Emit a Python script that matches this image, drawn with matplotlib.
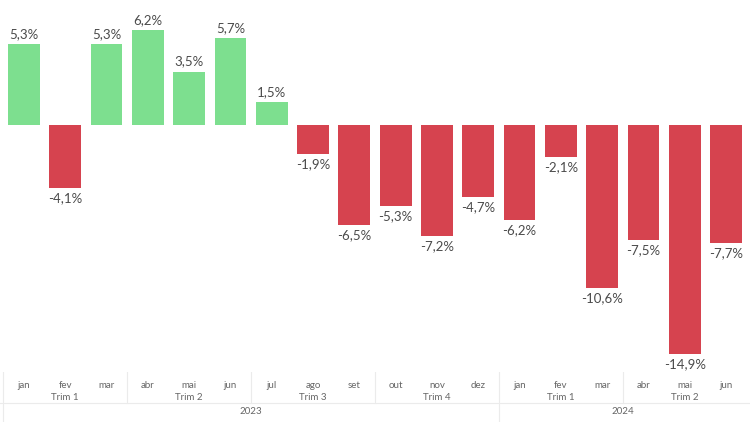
import matplotlib.pyplot as plt

months = ["jan", "fev", "mar", "abr", "mai", "jun", "jul", "ago", "set",
          "out", "nov", "dez", "jan", "fev", "mar", "abr", "mai", "jun"]
values = [5.3, -4.1, 5.3, 6.2, 3.5, 5.7, 1.5, -1.9, -6.5,
          -5.3, -7.2, -4.7, -6.2, -2.1, -10.6, -7.5, -14.9, -7.7]
quarters = ["Trim 1", "Trim 2", "Trim 3", "Trim 4", "Trim 1", "Trim 2"]
years = ["2023", "2024"]
year_sizes = [12, 6]

green = "#7ddf8f"
red = "#d6434f"
plt.rcParams["font.family"] = ["Lato", "DejaVu Sans"]

fig = plt.figure(figsize=(7.5, 4.22), dpi=100)
W, H = 750, 422
ax = fig.add_axes([0, 1 - 372 / H, 1, 372 / H])
lab = fig.add_axes([0, 0, 1, 50 / H])

x = list(range(len(values)))
colors = [green if v >= 0 else red for v in values]
ax.bar(x, values, width=0.77, color=colors)

xl = (-0.58, 17.58)
ax.set_xlim(*xl)
ax.set_ylim(-16.1, 8.17)
ax.axis("off")

for i, v in enumerate(values):
    txt = "{:.1f}%".format(v).replace(".", ",")
    if v >= 0:
        ax.annotate(txt, (i, v), xytext=(0, 3), textcoords="offset points",
                    ha="center", va="bottom", fontsize=9.5, color="#4a4a4a")
    else:
        ax.annotate(txt, (i, v), xytext=(0, -3), textcoords="offset points",
                    ha="center", va="top", fontsize=9.5, color="#4a4a4a")

# hierarchical axis
lab.set_xlim(*xl)
lab.set_ylim(0, 1)
lab.axis("off")
lc = "#ebebeb"
lab.axhline(0.38, color=lc, lw=0.8)
lab.plot([-0.5, -0.5], [0, 1], color=lc, lw=0.8)
for b in [2.5, 5.5, 8.5, 14.5]:
    lab.plot([b, b], [0.38, 1], color=lc, lw=0.8)
lab.plot([11.5, 11.5], [0, 1], color=lc, lw=0.8)

for i, m in enumerate(months):
    lab.text(i, 0.74, m, ha="center", va="center", fontsize=7, color="#666666")
for q, name in enumerate(quarters):
    lab.text(q * 3 + 1, 0.49, name, ha="center", va="center", fontsize=7, color="#666666")
start = 0
for y, n in zip(years, year_sizes):
    lab.text(start + (n - 1) / 2, 0.2, y, ha="center", va="center", fontsize=7, color="#666666")
    start += n

fig.savefig("out.png", dpi=100)
